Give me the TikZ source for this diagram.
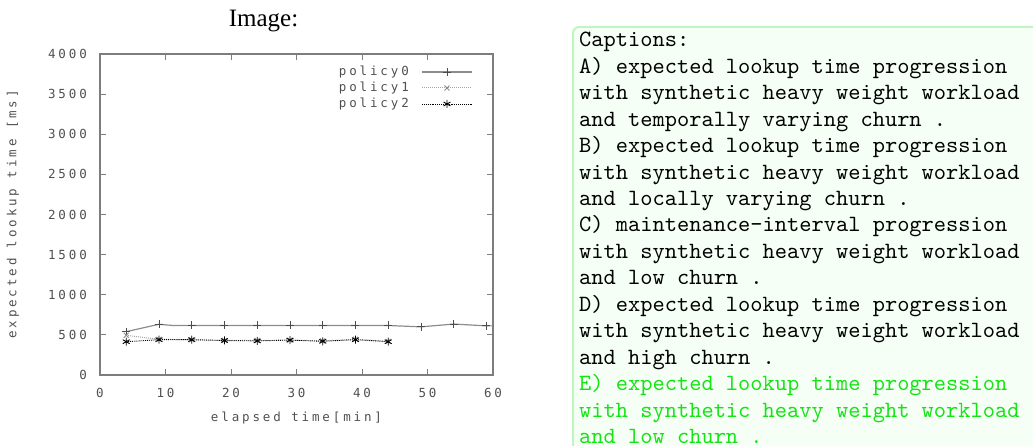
\documentclass[tikz,border=0pt]{standalone}
\usepackage{fontspec}
\setmainfont{Liberation Serif}
\newfontfamily\plotfont[LetterSpace=23]{DejaVu Sans Mono}
\newfontfamily\captfont{lmmono10-regular.otf}
\usetikzlibrary{plotmarks}

\definecolor{axisgray}{RGB}{125,125,125}
\definecolor{labgray}{RGB}{80,80,80}
\definecolor{boxgreen}{RGB}{192,244,192}
\definecolor{boxfill}{RGB}{246,255,246}
\definecolor{capgreen}{RGB}{20,228,20}

\tikzset{
  ticklab/.style={font=\plotfont\fontsize{12.5}{14}\selectfont, text=labgray, inner sep=0pt},
  captxt/.style={font=\captfont\fontsize{23.3}{26.5}\selectfont, anchor=base west, inner sep=0pt},
  pzero/.style={draw=black!45, line width=1.2pt},
  pzeromark/.style={only marks, mark=+, mark size=4pt, mark options={draw=black!70, line width=0.9pt}},
  pone/.style={draw=black!35, line width=1pt, densely dotted},
  ponemark/.style={only marks, mark=x, mark size=3.5pt, mark options={draw=black!45, line width=0.9pt, solid}},
  ptwo/.style={draw=black, line width=0.9pt, densely dotted},
  ptwomark/.style={only marks, mark=asterisk, mark size=4pt, mark options={draw=black, line width=0.9pt, solid}},
}

\begin{document}
\begin{tikzpicture}[x=1pt,y=-1pt]
	\useasboundingbox (0,0) rectangle (1033,446);
	\node[font=\fontsize{25}{30}\selectfont, anchor=base, inner sep=0pt] (title) at (263.5,26.7) {Image:};

	% frame and ticks
	\draw[axisgray, line width=1.3pt] (100,54) rectangle (493,375);
	\foreach \v [count=\i from 0] in {0,500,...,4000} {
		\draw[axisgray, line width=1pt] (100,{375-40.125*\i}) -- ++(6,0) (493,{375-40.125*\i}) -- ++(-6,0);
		\node[ticklab, anchor=east] (ylab\i) at (87,{375-40.125*\i}) {\v};
	}
	\foreach \m [count=\i from 0] in {0,10,...,60} {
		\draw[axisgray, line width=1pt] ({100+65.5*\i},375) -- ++(0,-6) ({100+65.5*\i},54) -- ++(0,6);
		\node[ticklab] (xlab\i) at ({100+65.5*\i},393) {\m};
	}
	\node[ticklab] (xname) at (296.5,418) {elapsed time[min]};
	\node[ticklab, rotate=90] (yname) at (13,214.5) {expected lookup time [ms]};

	% data
	\begin{scope}[shift={(100,375)}, x=6.55pt, y=0.08025pt]
		\draw[pzero] plot coordinates {(4,540) (9,632) (11,618) (14,617) (19,617) (24,617) (29,617) (34,617) (39,617) (44,617) (49,600) (54,635) (59,612) (60,612)};
		\draw plot[pzeromark] coordinates {(4,540) (9,632) (14,617) (19,617) (24,617) (29,617) (34,617) (39,617) (44,617) (49,600) (54,635) (59,612)};
		\draw[pone] plot coordinates {(4,495) (9,445) (14,440) (19,430) (24,430) (29,435) (34,425) (39,445) (44,420)};
		\draw plot[ponemark] coordinates {(4,495) (9,445) (14,440) (19,430) (24,430) (29,435) (34,425) (39,445) (44,420)};
		\draw[ptwo] plot coordinates {(4,415) (9,440) (14,440) (19,430) (24,425) (29,435) (34,420) (39,440) (44,415)};
		\draw plot[ptwomark] coordinates {(4,415) (9,440) (14,440) (19,430) (24,425) (29,435) (34,420) (39,440) (44,415)};
	\end{scope}

	% legend
	\node[ticklab, anchor=east] (leg0) at (409,72) {policy0};
	\node[ticklab, anchor=east] (leg1) at (409,88) {policy1};
	\node[ticklab, anchor=east] (leg2) at (409,104) {policy2};
	\draw[pzero] ([xshift=13pt]leg0.east) -- ++(50,0);
	\draw plot[pzeromark] coordinates {([xshift=38pt]leg0.east)};
	\draw[pone] ([xshift=13pt]leg1.east) -- ++(50,0);
	\draw plot[ponemark] coordinates {([xshift=38pt]leg1.east)};
	\draw[ptwo] ([xshift=13pt]leg2.east) -- ++(50,0);
	\draw plot[ptwomark] coordinates {([xshift=38pt]leg2.east)};

	% captions
	\draw[boxgreen, fill=boxfill, line width=2pt, rounded corners=6pt] (573,27) rectangle (1045,460);
	\foreach \t [count=\i from 0] in {Captions:, A) expected lookup time progression, with synthetic heavy weight workload, and temporally varying churn ., B) expected lookup time progression, with synthetic heavy weight workload, and locally varying churn ., C) maintenance-interval progression, with synthetic heavy weight workload, and low churn ., D) expected lookup time progression, with synthetic heavy weight workload, and high churn .}
		\node[captxt] (cap\i) at (579,{46.7+26.47*\i}) {\t};
	\foreach \t [count=\i from 13] in {E) expected lookup time progression, with synthetic heavy weight workload, and low churn .}
		\node[captxt, text=capgreen] (cap\i) at (579,{46.7+26.47*\i}) {\t};
\end{tikzpicture}
\end{document}
